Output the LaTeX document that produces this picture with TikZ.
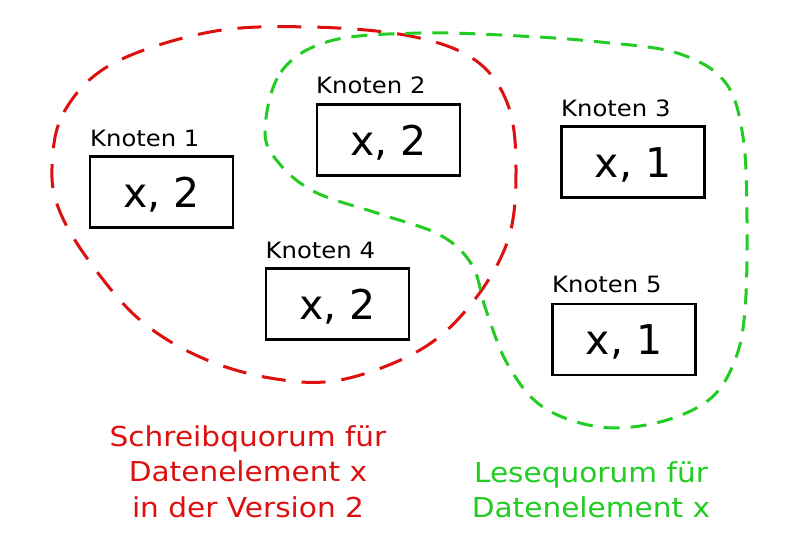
\documentclass[tikz,border=0pt]{standalone}
\usepackage{fontspec}
\setmainfont{DejaVu Sans}
\newfontfamily\widefont{DejaVu Sans}[FakeStretch=1.08]
\definecolor{qred}{RGB}{221,16,16}
\definecolor{qgreen}{RGB}{34,204,34}
\begin{document}
\begin{tikzpicture}[x=1pt,y=-1pt,
  box/.style={draw=black,line width=2.6pt,minimum width=143pt,minimum height=71pt,inner sep=0pt,
    text height=30.6pt,text depth=0pt,font=\fontsize{41}{41}\selectfont},
  lab/.style={anchor=base west,inner sep=0pt,font=\widefont\fontsize{22.5}{22.5}\selectfont},
  redq/.style={draw=qred,line width=3pt,dash pattern=on 24pt off 16pt},
  greenq/.style={draw=qgreen,line width=3pt,dash pattern=on 16pt off 11pt},
  caption/.style={align=center,inner sep=0pt,font=\widefont\fontsize{27.4}{35.5}\selectfont}]
\useasboundingbox (0,0) rectangle (800,548);
\fill[white] (0,0) rectangle (800,548);
% boxes
\node[box] (b1) at (161.5,192) {x, 2};
\node[box] (b2) at (388.3,140) {x, 2};
\node[box] (b3) at (633,162) {x, 1};
\node[box] (b4) at (337.3,304) {x, 2};
\node[box] (b5) at (624,339.3) {x, 1};
% labels
\node[lab] (l1) at (90,147) {Knoten 1};
\node[lab] (l2) at (316,94) {Knoten 2};
\node[lab] (l3) at (561,116.7) {Knoten 3};
\node[lab] (l4) at (265.5,258) {Knoten 4};
\node[lab] (l5) at (552,292.7) {Knoten 5};
% write quorum
\draw[redq] plot[smooth cycle,tension=0.6] coordinates {
 (52,168) (64,112) (112,64) (210,32) (310,27) (410,36) (475,60) (508,105) (516,170)
 (508,240) (472,303) (420,350) (340,380) (270,378) (200,357) (140,320) (92,265) (60,212)};
% read quorum
\draw[greenq] plot[smooth cycle,tension=0.6] coordinates {
 (265,130) (281,72) (330,41) (420,33) (520,36) (600,42) (677,53) (725,82) (743,137)
 (747,220) (745,310) (735,360) (710,399) (660,422) (600,427) (543,407) (508,365) (486,310)
 (472,265) (440,235) (380,214) (315,192) (278,162)};
% captions
\node[caption,text=qred,anchor=north] (c1) at (248,425) {Schreibquorum für\\Datenelement x\\in der Version 2};
\node[caption,text=qgreen,anchor=north] (c2) at (591,461) {Lesequorum für\\Datenelement x};
\end{tikzpicture}
\end{document}
